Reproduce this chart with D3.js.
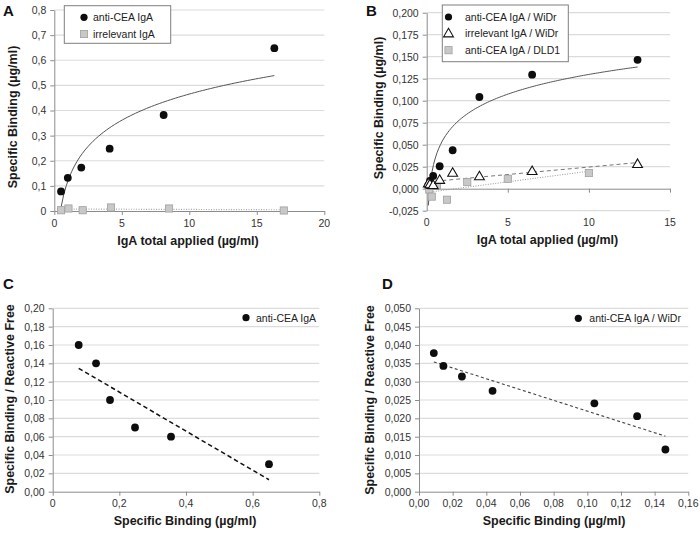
<!DOCTYPE html>
<html><head><meta charset="utf-8">
<script src="https://cdn.jsdelivr.net/npm/d3@7"></script>
<style>body{margin:0;background:#fff}svg{display:block}</style>
</head><body><svg id="c" width="700" height="536"></svg>
<script>
// ---------- DATA ----------
// Panel A
const aX = [0.5, 1, 2, 4.1, 8.1, 16.3];
const aAntiCEA = [0.078, 0.132, 0.173, 0.248, 0.382, 0.648];
const aIrrX = [0.5, 1.05, 2.1, 4.2, 8.5, 17];
const aIrrelevant = [0.003, 0.010, 0.003, 0.014, 0.010, 0.002];
// Panel B
const bX = [0.1, 0.2, 0.4, 0.8, 1.6, 3.25, 6.5, 13];
const bAntiWiDr = [0.004, 0.0088, 0.0145, 0.0255, 0.0437, 0.1042, 0.1296, 0.1464];
const bIrrWiDr = [0.006, 0.005, 0.004, 0.010, 0.018, 0.014, 0.020, 0.028];
const bDldX = [0.16, 0.31, 0.63, 1.25, 2.5, 5, 10];
const bAntiDLD1 = [-0.001, -0.009, 0.004, -0.0125, 0.0075, 0.0113, 0.0178];
// Panel C (Scatchard)
const cX = [0.078, 0.130, 0.172, 0.247, 0.355, 0.649];
const cY = [0.160, 0.140, 0.100, 0.070, 0.060, 0.030];
// Panel D (Scatchard)
const dX = [0.0088, 0.0145, 0.0255, 0.0437, 0.1042, 0.1296, 0.1464];
const dY = [0.0378, 0.0343, 0.0314, 0.0275, 0.0241, 0.0206, 0.0115];
// Ticks
const aXTicks = [0, 5, 10, 15, 20];
const aYTicks = [0, 0.1, 0.2, 0.3, 0.4, 0.5, 0.6, 0.7, 0.8];
const bXTicks = [0, 5, 10, 15];
const bYTicks = [-0.025, 0, 0.025, 0.05, 0.075, 0.1, 0.125, 0.15, 0.175, 0.2];
const cXTicks = [0, 0.2, 0.4, 0.6, 0.8];
const cYTicks = [0, 0.02, 0.04, 0.06, 0.08, 0.1, 0.12, 0.14, 0.16, 0.18, 0.2];
const dXTicks = [0, 0.02, 0.04, 0.06, 0.08, 0.1, 0.12, 0.14, 0.16];
const dYTicks = [0, 0.005, 0.01, 0.015, 0.02, 0.025, 0.03, 0.035, 0.04, 0.045, 0.05];
const xTitle1 = "IgA total applied (µg/ml)";
const yTitle1 = "Specific Binding (µg/ml)";
const xTitle2 = "Specific Binding (µg/ml)";
const yTitle2 = "Specific Binding / Reactive Free";

// ---------- HELPERS ----------
const FONT = "'Liberation Sans', Arial, Helvetica, sans-serif";
const svg = d3.select('#c');
const comma = f => v => d3.format(f)(v).replace('.', ',').replace('−', '-');
const fmtA = v => v === 0 ? '0' : comma('.1f')(v);

function linFit(xs, ys) {
  const mx = d3.mean(xs), my = d3.mean(ys);
  let sxy = 0, sxx = 0;
  xs.forEach((x, i) => { sxy += (x - mx) * (ys[i] - my); sxx += (x - mx) ** 2; });
  const a = sxy / sxx; return x => my + a * (x - mx);
}
function logFit(xs, ys) {
  const lx = xs.map(Math.log), f = linFit(lx, ys);
  return x => f(Math.log(x));
}

function panel(p) {
  const g = svg.append('g');
  const x = d3.scaleLinear().domain(p.xDomain).range([p.left, p.right]);
  const y = d3.scaleLinear().domain(p.yDomain).range([p.bottom, p.top]);
  // gridlines
  g.selectAll('line.grid').data(p.yTicks.filter(v => v !== p.axisAt)).join('line')
    .attr('x1', p.left).attr('x2', p.right)
    .attr('y1', d => y(d)).attr('y2', d => y(d))
    .attr('stroke', '#dcdcdc').attr('stroke-width', 1.2);
  // y axis
  const ya = g.append('g').attr('transform', `translate(${p.left},0)`)
    .call(d3.axisLeft(y).tickValues(p.yTicks).tickFormat(p.yFmt).tickSize(4).tickSizeOuter(0).tickPadding(4));
  // x axis (line at axisAt, labels at bottom)
  const xa = g.append('g').attr('transform', `translate(0,${y(p.axisAt)})`)
    .call(d3.axisBottom(x).tickValues(p.xTicks).tickFormat('').tickSize(4).tickSizeOuter(0));
  [ya, xa].forEach(a => {
    a.select('.domain').attr('stroke', '#8c8c8c');
    a.selectAll('.tick line').attr('stroke', '#8c8c8c');
    a.selectAll('text').attr('fill', '#333').attr('font-family', FONT).attr('font-size', 10.5);
  });
  g.selectAll('text.xt').data(p.xTicks).join('text')
    .attr('x', d => x(d)).attr('y', p.bottom + 15.5).attr('text-anchor', 'middle')
    .attr('font-family', FONT).attr('font-size', 10.5).attr('fill', '#333').text(p.xFmt);
  // titles
  g.append('text').attr('x', p.xTitleX).attr('y', p.bottom + 33.5).attr('text-anchor', 'middle')
    .attr('font-family', FONT).attr('font-weight', 'bold').attr('font-size', 12.5).attr('fill', '#1a1a1a').text(p.xTitle);
  g.append('text').attr('transform', `translate(${p.yTitleX},${p.yTitleY}) rotate(-90)`).attr('text-anchor', 'middle')
    .attr('font-family', FONT).attr('font-weight', 'bold').attr('font-size', 12.5).attr('fill', '#1a1a1a').text(p.yTitle);
  g.append('text').attr('x', p.letterX).attr('y', p.letterY)
    .attr('font-family', FONT).attr('font-weight', 'bold').attr('font-size', 15).attr('fill', '#111').text(p.letter);
  return { g, x, y };
}

function fitLine(ctx, f, x0, x1, style, n) {
  const N = n || 2;
  const pts = d3.range(N + 1).map(i => x0 + (x1 - x0) * i / N);
  ctx.g.append('path').attr('d', d3.line().x(d => ctx.x(d)).y(d => ctx.y(f(d)))(pts))
    .attr('fill', 'none').attr('stroke', style.stroke).attr('stroke-width', style.width || 1)
    .attr('stroke-dasharray', style.dash || null);
}
function dots(ctx, xs, ys) {
  ctx.g.selectAll(null).data(xs).join('circle')
    .attr('cx', d => ctx.x(d)).attr('cy', (d, i) => ctx.y(ys[i])).attr('r', 3.9).attr('fill', '#0d0d0d');
}
function squares(ctx, xs, ys) {
  ctx.g.selectAll(null).data(xs).join('rect')
    .attr('x', d => ctx.x(d) - 3.6).attr('y', (d, i) => ctx.y(ys[i]) - 3.6).attr('width', 7.2).attr('height', 7.2)
    .attr('fill', '#c8c8c8').attr('stroke', '#a0a0a0').attr('stroke-width', 0.8);
}
function triangles(ctx, xs, ys) {
  ctx.g.selectAll(null).data(xs).join('path')
    .attr('d', d3.symbol(d3.symbolTriangle, 42))
    .attr('transform', (d, i) => `translate(${ctx.x(d)},${ctx.y(ys[i]) + 0.6})`)
    .attr('fill', '#fff').attr('stroke', '#111').attr('stroke-width', 1.1);
}
function legendText(x, y, t) {
  svg.append('text').attr('x', x).attr('y', y + 3.8).attr('font-family', FONT).attr('font-size', 10.5)
    .attr('fill', '#222').text(t);
}

// ---------- PANEL A ----------
const A = panel({ left: 54.3, right: 324.3, top: 10, bottom: 211, xDomain: [0, 20], yDomain: [0, 0.8], axisAt: 0,
  xTicks: aXTicks, yTicks: aYTicks, xFmt: d3.format('d'), yFmt: fmtA,
  xTitle: xTitle1, xTitleX: 188, yTitle: yTitle1, yTitleX: 17, yTitleY: 117, letter: 'A', letterX: 3, letterY: 16 });
fitLine(A, logFit(aX, aAntiCEA), 0.5, 16.3, { stroke: '#555', width: 1 }, 80);
fitLine(A, linFit(aIrrX, aIrrelevant), 0.5, 17, { stroke: '#a8a8a8', width: 1.2, dash: '1,1.5' });
dots(A, aX, aAntiCEA);
squares(A, aIrrX, aIrrelevant);
svg.append('rect').attr('x', 64.3).attr('y', 5.7).attr('width', 106.4).attr('height', 37.6)
  .attr('fill', '#fff').attr('stroke', '#7f7f7f');
svg.append('circle').attr('cx', 84).attr('cy', 17.3).attr('r', 3.6).attr('fill', '#0d0d0d');
legendText(93, 17.3, 'anti-CEA IgA');
svg.append('rect').attr('x', 80.4).attr('y', 30.4).attr('width', 7.2).attr('height', 7.2)
  .attr('fill', '#c8c8c8').attr('stroke', '#a0a0a0').attr('stroke-width', 0.8);
legendText(93, 34, 'irrelevant IgA');

// ---------- PANEL B ----------
const B = panel({ left: 426.7, right: 670, top: 12.7, bottom: 210.7, xDomain: [0, 15], yDomain: [-0.025, 0.2], axisAt: 0,
  xTicks: bXTicks, yTicks: bYTicks, xFmt: d3.format('d'), yFmt: comma('.3f'),
  xTitle: xTitle1, xTitleX: 547.5, yTitle: yTitle1, yTitleX: 383, yTitleY: 108, letter: 'B', letterX: 366, letterY: 16 });
fitLine(B, logFit(bX, bAntiWiDr), 0.1, 13, { stroke: '#555', width: 1 }, 120);
fitLine(B, linFit(bX, bIrrWiDr), 0.1, 13, { stroke: '#777', width: 1, dash: '4,3' });
fitLine(B, linFit(bDldX, bAntiDLD1), 0.1, 10, { stroke: '#999', width: 1, dash: '1,1.5' });
squares(B, bDldX, bAntiDLD1);
dots(B, bX, bAntiWiDr);
triangles(B, bX, bIrrWiDr);
svg.append('rect').attr('x', 442.3).attr('y', 5).attr('width', 126).attr('height', 56.7)
  .attr('fill', '#fff').attr('stroke', '#7f7f7f');
svg.append('circle').attr('cx', 448.5).attr('cy', 17).attr('r', 3.6).attr('fill', '#0d0d0d');
legendText(465, 17, 'anti-CEA IgA / WiDr');
svg.append('path').attr('d', d3.symbol(d3.symbolTriangle, 42)).attr('transform', 'translate(448.5,34)')
  .attr('fill', '#fff').attr('stroke', '#111').attr('stroke-width', 1.1);
legendText(465, 33.5, 'irrelevant IgA / WiDr');
svg.append('rect').attr('x', 444.9).attr('y', 46.6).attr('width', 7.2).attr('height', 7.2)
  .attr('fill', '#c8c8c8').attr('stroke', '#a0a0a0').attr('stroke-width', 0.8);
legendText(465, 50.2, 'anti-CEA IgA / DLD1');

// ---------- PANEL C ----------
const C = panel({ left: 52.7, right: 319.3, top: 308.3, bottom: 491.7, xDomain: [0, 0.8], yDomain: [0, 0.2], axisAt: 0,
  xTicks: cXTicks, yTicks: cYTicks, xFmt: d => d === 0 ? '0' : comma('.1f')(d), yFmt: comma('.2f'),
  xTitle: xTitle2, xTitleX: 185, yTitle: yTitle2, yTitleX: 14, yTitleY: 399, letter: 'C', letterX: 3, letterY: 289 });
fitLine(C, linFit(cX, cY), d3.min(cX), d3.max(cX), { stroke: '#111', width: 1.5, dash: '4.5,3' });
dots(C, cX, cY);
svg.append('circle').attr('cx', 246).attr('cy', 317.7).attr('r', 3.6).attr('fill', '#0d0d0d');
legendText(256, 317.7, 'anti-CEA IgA');

// ---------- PANEL D ----------
const D = panel({ left: 419, right: 688.3, top: 308.3, bottom: 491.7, xDomain: [0, 0.16], yDomain: [0, 0.05], axisAt: 0,
  xTicks: dXTicks, yTicks: dYTicks, xFmt: comma('.2f'), yFmt: comma('.3f'),
  xTitle: xTitle2, xTitleX: 554, yTitle: yTitle2, yTitleX: 374, yTitleY: 400, letter: 'D', letterX: 382, letterY: 289 });
fitLine(D, linFit(dX, dY), d3.min(dX), d3.max(dX), { stroke: '#444', width: 1.1, dash: '3,2.5' });
dots(D, dX, dY);
svg.append('circle').attr('cx', 578.3).attr('cy', 318.3).attr('r', 3.6).attr('fill', '#0d0d0d');
legendText(589.3, 318.3, 'anti-CEA IgA / WiDr');
</script></body></html>
